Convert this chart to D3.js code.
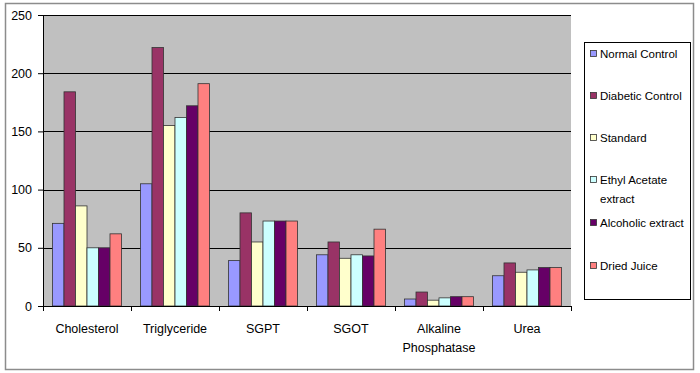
<!DOCTYPE html>
<html>
<head>
<meta charset="utf-8">
<script src="https://cdn.jsdelivr.net/npm/d3@7"></script>
<style>
  body { margin: 0; background: #fff; }
  text { font-family: "Liberation Sans", Arial, sans-serif; }
</style>
</head>
<body>
<div id="chart"></div>
<script>
// chart data
var categories = ["Cholesterol", "Triglyceride", "SGPT", "SGOT", "Alkaline Phosphatase", "Urea"];
var seriesNames = ["Normal Control", "Diabetic Control", "Standard", "Ethyl Acetate extract", "Alcoholic extract", "Dried Juice"];
var normalControl = [71, 105, 39, 44, 6, 26];
var diabeticControl = [184, 222, 80, 55, 12, 37];
var standard = [86, 155, 55, 41, 5, 29];
var ethylAcetate = [50, 162, 73, 44, 7, 31];
var alcoholic = [50, 172, 73, 43, 8, 33];
var driedJuice = [62, 191, 73, 66, 8, 33];
var yTicks = [0, 50, 100, 150, 200, 250];

var seriesValues = [normalControl, diabeticControl, standard, ethylAcetate, alcoholic, driedJuice];
var colors = ["#9999FF", "#993366", "#FFFFCC", "#CCFFFF", "#660066", "#FF8080"];

var svgWidth = 700;
var svgHeight = 373;

var margin = { top: 15, left: 43 };
var width = 528;
var height = 291;

var svg = d3.select("#chart")
    .append("svg")
    .attr("width", svgWidth)
    .attr("height", svgHeight);

// outer frame
svg.append("rect")
    .attr("x", 5.5).attr("y", 3.5)
    .attr("width", 688).attr("height", 366)
    .attr("fill", "#fff")
    .attr("stroke", "#8c8c8c")
    .attr("stroke-width", 1.5);

var chartGroup = svg.append("g")
    .attr("transform", `translate(${margin.left},${margin.top})`);

var x0 = d3.scaleBand()
    .domain(categories)
    .range([0, width])
    .paddingInner(0)
    .paddingOuter(0);

var x1 = d3.scaleBand()
    .domain(d3.range(seriesNames.length))
    .range([9.5, x0.bandwidth() - 9.5]);

var y = d3.scaleLinear()
    .domain([0, 250])
    .range([height, 0]);

// plot background
chartGroup.append("rect")
    .attr("width", width)
    .attr("height", height)
    .attr("fill", "#C0C0C0");

// gridlines
chartGroup.selectAll(".grid")
    .data(yTicks.filter(d => d > 0))
    .enter()
    .append("line")
    .attr("x1", 0).attr("x2", width)
    .attr("y1", d => Math.round(y(d)) + 0.5)
    .attr("y2", d => Math.round(y(d)) + 0.5)
    .attr("stroke", "#000")
    .attr("stroke-width", 1);

// bars
var groups = chartGroup.selectAll(".cat")
    .data(categories)
    .enter()
    .append("g")
    .attr("transform", d => `translate(${x0(d)},0)`);

groups.selectAll("rect")
    .data((d, i) => seriesValues.map((s, k) => ({ k: k, v: s[i] })))
    .enter()
    .append("rect")
    .attr("x", d => x1(d.k))
    .attr("y", d => y(d.v))
    .attr("width", x1.bandwidth())
    .attr("height", d => height - y(d.v))
    .attr("fill", d => colors[d.k])
    .attr("stroke", "#333")
    .attr("stroke-width", 0.8);

// y axis
var leftAxis = d3.axisLeft(y).tickValues(yTicks).tickSize(5).tickPadding(6);
var yAxisG = chartGroup.append("g").call(leftAxis);
yAxisG.select(".domain").attr("stroke", "#000");
yAxisG.selectAll("text")
    .attr("font-size", "12.5px")
    .attr("fill", "#000")
    .style("font-family", "Liberation Sans, Arial, sans-serif");

// x axis with ticks between categories
var xAxisG = chartGroup.append("g")
    .attr("transform", `translate(0,${height})`);
xAxisG.append("line")
    .attr("x1", 0).attr("x2", width)
    .attr("y1", 0.5).attr("y2", 0.5)
    .attr("stroke", "#000");
xAxisG.selectAll(".tk")
    .data(d3.range(categories.length + 1))
    .enter()
    .append("line")
    .attr("x1", d => Math.round(d * x0.bandwidth()) + 0.5)
    .attr("x2", d => Math.round(d * x0.bandwidth()) + 0.5)
    .attr("y1", 0).attr("y2", 5)
    .attr("stroke", "#000");

var catLabels = xAxisG.selectAll(".cl")
    .data(categories)
    .enter()
    .append("text")
    .attr("x", d => x0(d) + x0.bandwidth() / 2)
    .attr("y", 27)
    .attr("text-anchor", "middle")
    .attr("font-size", "12.5px")
    .attr("fill", "#000");

catLabels.each(function(d) {
    var words = d === "Alkaline Phosphatase" ? ["Alkaline", "Phosphatase"] : [d];
    var t = d3.select(this);
    words.forEach(function(w, i) {
        t.append("tspan")
            .attr("x", x0(d) + x0.bandwidth() / 2)
            .attr("dy", i === 0 ? 0 : 19)
            .text(w);
    });
});

// legend
var legend = svg.append("g");
legend.append("rect")
    .attr("x", 584.5).attr("y", 42.5)
    .attr("width", 106).attr("height", 257)
    .attr("fill", "#fff")
    .attr("stroke", "#000")
    .attr("stroke-width", 1);

var legendY = [54, 96, 138, 180, 223, 266];
var legendItems = legend.selectAll(".li")
    .data(seriesNames)
    .enter()
    .append("g")
    .attr("transform", (d, i) => `translate(590,${legendY[i]})`);

legendItems.append("rect")
    .attr("x", 0.5).attr("y", -3.5)
    .attr("width", 6).attr("height", 6)
    .attr("fill", (d, i) => colors[i])
    .attr("stroke", "#333")
    .attr("stroke-width", 0.8);

legendItems.append("text")
    .attr("x", 10)
    .attr("y", 4)
    .attr("font-size", "11.5px")
    .attr("fill", "#000")
    .each(function(d) {
        var lines = d === "Ethyl Acetate extract" ? ["Ethyl Acetate", "extract"] : [d];
        var t = d3.select(this);
        lines.forEach(function(w, i) {
            t.append("tspan").attr("x", 10).attr("dy", i === 0 ? 0 : 19).text(w);
        });
    });
</script>
</body>
</html>
